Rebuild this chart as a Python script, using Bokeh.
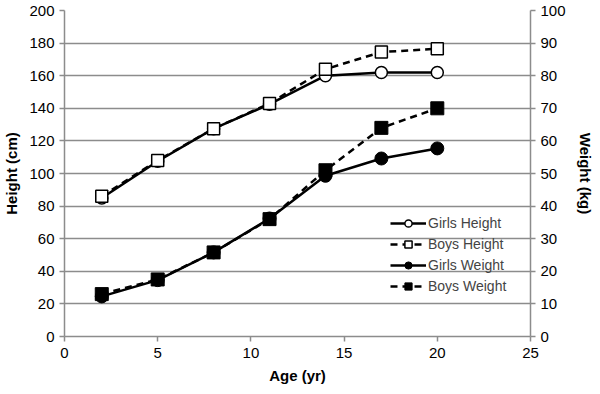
from bokeh.plotting import figure
from bokeh.models import Range1d, LinearAxis, Legend, LegendItem, FixedTicker
from bokeh.embed import file_html
from bokeh.resources import INLINE

ages = [2, 5, 8, 11, 14, 17, 20]
girls_height = [85, 107.5, 127.5, 142.5, 160, 162, 162]
boys_height = [86, 108, 127.5, 143, 164, 174.5, 176.5]
girls_weight = [12.3, 17.3, 25.8, 36.2, 49.3, 54.6, 57.7]
boys_weight = [13, 17.5, 25.8, 36, 51, 64, 70]

FONT = "Liberation Sans"

p = figure(frame_width=466, frame_height=326, output_backend="svg", toolbar_location=None,
           x_range=Range1d(0, 25), y_range=Range1d(0, 200),
           min_border_left=60, min_border_right=10, min_border_top=10, min_border_bottom=10)
p.extra_y_ranges = {"w": Range1d(0, 100)}
p.outline_line_color = None
p.background_fill_color = "white"

p.xgrid.grid_line_color = None
p.ygrid.grid_line_color = "#8c8c8c"
p.ygrid.grid_line_width = 1.5
p.ygrid.ticker = FixedTicker(ticks=list(range(0, 201, 20)))

def style_axis(ax):
    ax.axis_line_color = "#8c8c8c"
    ax.axis_line_width = 1.5
    ax.major_tick_line_color = "#8c8c8c"
    ax.major_tick_line_width = 1.5
    ax.major_tick_out = 5
    ax.major_tick_in = 0
    ax.minor_tick_line_color = None
    ax.major_label_text_font = FONT
    ax.major_label_text_font_size = "15px"
    ax.major_label_text_color = "black"
    ax.axis_label_text_font = FONT
    ax.axis_label_text_font_size = "15px"
    ax.axis_label_text_font_style = "bold"
    ax.axis_label_text_color = "black"

p.xaxis.ticker = FixedTicker(ticks=[0, 5, 10, 15, 20, 25])
p.xaxis.axis_label = "Age (yr)"
p.yaxis.ticker = FixedTicker(ticks=list(range(0, 201, 20)))
p.yaxis.axis_label = "Height (cm)"
style_axis(p.xaxis[0])
style_axis(p.yaxis[0])
p.xaxis.major_label_standoff = 6
p.xaxis.axis_label_standoff = 6
p.yaxis.axis_label_standoff = 6

right = LinearAxis(y_range_name="w", ticker=FixedTicker(ticks=list(range(0, 101, 10))),
                   axis_label="Weight (kg)")
style_axis(right)
right.major_label_standoff = 5
right.axis_label_standoff = 8
p.add_layout(right, "right")

lw = 2.5
gh_l = p.line(ages, girls_height, line_color="black", line_width=lw)
gh_m = p.scatter(ages, girls_height, marker="circle", size=12, fill_color="white",
                 line_color="black", line_width=1.5)
bh_l = p.line(ages, boys_height, line_color="black", line_width=lw, line_dash="7 5")
bh_m = p.scatter(ages, boys_height, marker="square", size=12, fill_color="white",
                 line_color="black", line_width=1.5)
gw_l = p.line(ages, girls_weight, line_color="black", line_width=lw, y_range_name="w")
gw_m = p.scatter(ages, girls_weight, marker="circle", size=13, fill_color="black",
                 line_color="black", y_range_name="w")
bw_l = p.line(ages, boys_weight, line_color="black", line_width=lw, line_dash="7 5",
              y_range_name="w")
bw_m = p.scatter(ages, boys_weight, marker="square", size=13, fill_color="black",
                 line_color="black", y_range_name="w")

legend = Legend(items=[
    LegendItem(label="Girls Height", renderers=[gh_l, gh_m]),
    LegendItem(label="Boys Height", renderers=[bh_l, bh_m]),
    LegendItem(label="Girls Weight", renderers=[gw_l, gw_m]),
    LegendItem(label="Boys Weight", renderers=[bw_l, bw_m]),
], location=(326, 41))
legend.background_fill_alpha = 0
legend.border_line_color = None
legend.label_text_font = FONT
legend.label_text_font_size = "14px"
legend.glyph_width = 36
legend.glyph_height = 18
legend.label_height = 18
legend.spacing = 3
legend.padding = 2
legend.margin = 0
legend.label_standoff = 2
p.add_layout(legend, "center")

open("out.html", "w").write(file_html(p, INLINE))
